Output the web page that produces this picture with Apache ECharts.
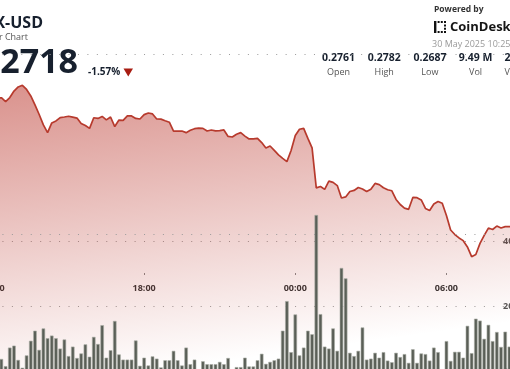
<!DOCTYPE html>
<html><head><meta charset="utf-8">
<script src="https://cdn.jsdelivr.net/npm/echarts@6/dist/echarts.min.js"></script>
<style>html,body{margin:0;padding:0;background:#fff;overflow:hidden}#c{width:510px;height:369px}</style>
</head><body><div id="c"></div>
<script>
// ---- header texts ----
const ticker = 'TRX-USD';
const subtitle = '24 Hour Chart';
const lastPrice = '0.2718';
const changePct = '-1.57%';
const poweredBy = 'Powered by';
const brand = 'CoinDesk';
const timestamp = '30 May 2025 10:25 UTC';
const statValues = ['0.2761', '0.2782', '0.2687', '9.49 M', '2.58 M'];
const statLabels = ['Open', 'High', 'Low', 'Vol', 'Vol USD'];

// ---- time axis (hours after 12:00, 29 May) ----
const timeTickLabels = ['12:00', '18:00', '00:00', '06:00'];
const tickHours = 6;
const stepHour = 1 / 6;          // 10-minute samples
const priceStartHour = 1 / 6;    // first price sample 12:10
const volStartHour = 1 / 3;      // first volume bar 12:20

// ---- price (USD), 10-minute samples ----
const prices = [
  0.27753, 0.27757, 0.27736, 0.27758, 0.27794, 0.27817, 0.27826, 0.27803, 0.27767, 0.27717,
  0.27664, 0.27606, 0.27563, 0.27617, 0.27628, 0.27647, 0.27650, 0.27654, 0.27649, 0.27644,
  0.27614, 0.27603, 0.27587, 0.27646, 0.27642, 0.27653, 0.27634, 0.27650, 0.27597, 0.27633,
  0.27631, 0.27656, 0.27656, 0.27642, 0.27639, 0.27663, 0.27672, 0.27667, 0.27639, 0.27638,
  0.27629, 0.27621, 0.27571, 0.27571, 0.27572, 0.27563, 0.27576, 0.27585, 0.27588, 0.27587,
  0.27572, 0.27578, 0.27573, 0.27574, 0.27578, 0.27542, 0.27539, 0.27554, 0.27563, 0.27544,
  0.27528, 0.27528, 0.27531, 0.27508, 0.27478, 0.27489, 0.27465, 0.27440, 0.27420, 0.27402,
  0.27464, 0.27547, 0.27582, 0.27587, 0.27531, 0.27478, 0.27256, 0.27264, 0.27248, 0.27294,
  0.27287, 0.27269, 0.27200, 0.27206, 0.27236, 0.27242, 0.27258, 0.27250, 0.27236, 0.27249,
  0.27281, 0.27274, 0.27257, 0.27246, 0.27240, 0.27192, 0.27164, 0.27144, 0.27137, 0.27203,
  0.27202, 0.27189, 0.27142, 0.27131, 0.27167, 0.27181, 0.27171, 0.27103, 0.27022, 0.26997,
  0.26978, 0.26963, 0.26928, 0.26874, 0.26886, 0.26948, 0.26992, 0.27033, 0.27025, 0.27044,
  0.27033, 0.27041, 0.27041, 0.27044
];
const priceGridLevels = [0.270, 0.275];

// ---- volume (thousands), 10-minute bars ----
const volumes = [
  37, 15, 72, 78, 34, 10, 48, 93, 124, 65,
  131, 101, 109, 101, 69, 97, 46, 75, 40, 54,
  82, 44, 105, 83, 141, 41, 64, 154, 51, 35,
  35, 35, 94, 16, 41, 17, 45, 38, 11, 33,
  33, 62, 33, 17, 72, 21, 35, 2, 30, 21,
  21, 21, 28, 21, 40, 2, 12, 12, 41, 14,
  14, 33, 53, 22, 28, 33, 38, 124, 215, 58,
  174, 48, 72, 124, 113, 480, 175, 75, 69, 131,
  62, 317, 285, 56, 46, 62, 134, 35, 38, 56,
  41, 58, 32, 27, 56, 43, 52, 25, 67, 25,
  54, 52, 32, 72, 58, 3, 92, 31, 59, 59,
  41, 139, 55, 161, 155, 99, 142, 92, 120, 74,
  121, 75, 90
];
const volTicks = [0, 200, 400];

const priceData = prices.map((p, i) => [priceStartHour + i * stepHour, p]);
const volData = volumes.map((v, i) => [volStartHour + i * stepHour, v]);

const FONT = '"Open Sans", "Noto Sans", sans-serif';
const dark = '#17202e';
const dotted = { type: [1, 8.44], color: '#9a9a9a', width: 1 };

const graphic = [
  { type: 'text', x: 43, y: 23, style: { text: ticker, font: 'bold 16px ' + FONT, fill: dark, align: 'right', verticalAlign: 'middle' } },
  { type: 'text', x: 28, y: 37, style: { text: subtitle, font: '9px ' + FONT, fill: '#555', align: 'right', verticalAlign: 'middle' } },
  { type: 'text', x: 78, y: 63, style: { text: lastPrice, font: 'bold 34px ' + FONT, fill: dark, align: 'right', verticalAlign: 'middle' } },
  { type: 'text', x: 88, y: 72, style: { text: changePct, font: 'bold 10px ' + FONT, fill: dark, align: 'left', verticalAlign: 'middle' } },
  { type: 'polygon', shape: { points: [[123.5, 68.5], [133, 68.5], [128.25, 76.5]] }, style: { fill: '#a81d12' } },
  { type: 'text', x: 434, y: 10, style: { text: poweredBy, font: 'bold 8.5px ' + FONT, fill: '#333', align: 'left', verticalAlign: 'middle' } },
  { type: 'rect', shape: { x: 434, y: 21, width: 2.4, height: 12 }, style: { fill: '#111' } },
  { type: 'rect', shape: { x: 437.6, y: 21, width: 2, height: 2 }, style: { fill: '#111' } },
  { type: 'rect', shape: { x: 440.8, y: 21, width: 2, height: 2 }, style: { fill: '#111' } },
  { type: 'rect', shape: { x: 444, y: 21, width: 2, height: 2 }, style: { fill: '#111' } },
  { type: 'rect', shape: { x: 437.6, y: 31, width: 2, height: 2 }, style: { fill: '#111' } },
  { type: 'rect', shape: { x: 440.8, y: 31, width: 2, height: 2 }, style: { fill: '#111' } },
  { type: 'rect', shape: { x: 444, y: 31, width: 2, height: 2 }, style: { fill: '#111' } },
  { type: 'rect', shape: { x: 444, y: 24.5, width: 2, height: 2 }, style: { fill: '#111' } },
  { type: 'rect', shape: { x: 444, y: 27.7, width: 2, height: 2 }, style: { fill: '#111' } },
  { type: 'text', x: 450, y: 27, style: { text: brand, font: 'bold 13px ' + FONT, fill: '#151515', align: 'left', verticalAlign: 'middle' } },
  { type: 'text', x: 432, y: 44, style: { text: timestamp, font: '9px ' + FONT, fill: '#9a9a9a', align: 'left', verticalAlign: 'middle' } }
];
statValues.forEach((v, i) => {
  const cx = 338.5 + i * 45.7;
  graphic.push({ type: 'text', x: cx, y: 58.5, style: { text: v, font: 'bold 10.5px ' + FONT, fill: dark, align: 'center', verticalAlign: 'middle' } });
  graphic.push({ type: 'text', x: cx, y: 72, style: { text: statLabels[i], font: '9px ' + FONT, fill: '#555', align: 'center', verticalAlign: 'middle' } });
});

const chart = echarts.init(document.getElementById('c'), null, { renderer: 'canvas', width: 510, height: 369 });
chart.setOption({
  animation: false,
  backgroundColor: '#fff',
  graphic: graphic,
  grid: [
    { left: -7, right: -12, top: 0, bottom: -18, outerBoundsMode: 'none', containLabel: false },
    { left: -7, right: -12, top: 241, bottom: -2, outerBoundsMode: 'none', containLabel: false }
  ],
  xAxis: [
    {
      type: 'value', gridIndex: 0, min: 0, max: 21, interval: tickHours,
      position: 'bottom', offset: -114,
      axisLine: { show: false },
      axisTick: { show: true, length: 2, lineStyle: { color: '#888' } },
      splitLine: { show: false },
      axisLabel: {
        margin: 11, fontSize: 9, fontWeight: 'bold', color: '#333', fontFamily: FONT,
        formatter: v => (v % tickHours === 0 && timeTickLabels[v / tickHours]) ? timeTickLabels[v / tickHours] : ''
      }
    },
    { type: 'value', gridIndex: 1, min: 0, max: 21, show: false }
  ],
  yAxis: [
    { type: 'value', gridIndex: 0, min: 0.2615, max: 0.283, show: false, splitLine: { show: false } },
    {
      type: 'value', gridIndex: 1, min: volTicks[0], max: volTicks[2], interval: volTicks[1] - volTicks[0],
      position: 'right', offset: -19,
      axisLine: { show: false }, axisTick: { show: false },
      axisLabel: { margin: 0, fontSize: 9, fontWeight: 'bold', color: '#555', fontFamily: FONT, formatter: v => v + 'K' },
      splitLine: { show: true, lineStyle: dotted }
    }
  ],
  series: [
    {
      type: 'line', xAxisIndex: 0, yAxisIndex: 0, data: priceData,
      showSymbol: false, symbol: 'none', smooth: false,
      lineStyle: { color: '#b73a2d', width: 1.7 },
      areaStyle: {
        color: {
          type: 'linear', x: 0, y: 0, x2: 0.08, y2: 1,
          colorStops: [
            { offset: 0, color: 'rgba(185,50,40,0.76)' },
            { offset: 1, color: 'rgba(185,50,40,0)' }
          ]
        }
      },
      markLine: {
        silent: true, symbol: 'none', label: { show: false },
        lineStyle: dotted,
        data: priceGridLevels.map(v => ({ yAxis: v }))
      },
      z: 2
    },
    {
      type: 'bar', xAxisIndex: 1, yAxisIndex: 1, data: volData,
      barWidth: 3.5, clip: false,
      itemStyle: { color: '#5a5f57', borderColor: '#a9aca5', borderWidth: 0.6 },
      z: 3
    }
  ]
});
</script>
</body></html>
